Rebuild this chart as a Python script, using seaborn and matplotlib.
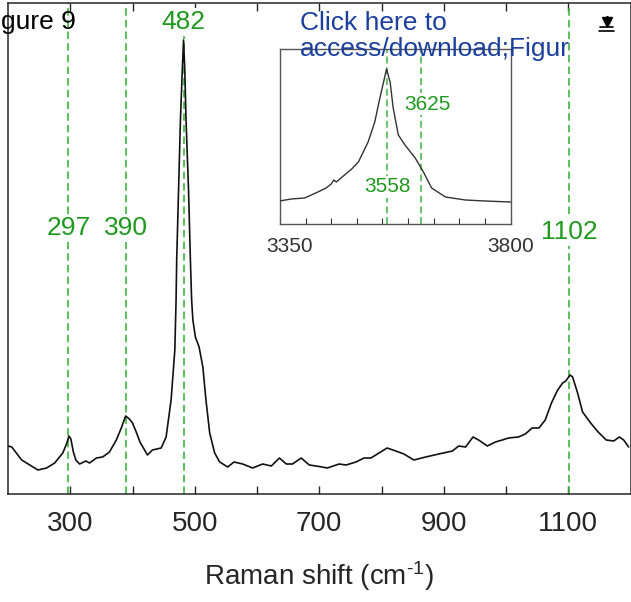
import matplotlib
matplotlib.use("Agg")
import matplotlib.pyplot as plt
import matplotlib.transforms as mtransforms
import seaborn as sns
import pandas as pd
from matplotlib.lines import Line2D

# Raman spectrum, low-wavenumber region (shift in cm^-1, intensity in a.u.)
shift = [200, 206, 222, 235, 248, 262, 275, 288, 294, 298, 301, 305, 309, 315,
         325, 331, 342, 352, 363, 374, 382, 389, 395, 400, 406, 412, 424, 432,
         446, 454, 462, 468, 470, 471, 474, 477, 480, 482, 484, 486, 490, 493,
         495, 497, 501, 507, 513, 518, 524, 532, 540, 553, 563, 577, 593, 609,
         623, 636, 647, 657, 671, 684, 700, 713, 732, 743, 759, 772, 783, 796,
         809, 823, 836, 852, 871, 892, 914, 924, 935, 947, 956, 970, 983, 994,
         1004, 1020, 1031, 1042, 1053, 1063, 1073, 1083, 1091, 1096, 1103, 1107,
         1115, 1123, 1136, 1148, 1161, 1173, 1182, 1189, 1197]
intensity = [48, 47, 34, 29, 24, 26, 31, 41, 50, 58, 55, 42, 34, 30,
             33, 31, 36, 37, 42, 54, 66, 78, 75, 71, 62, 52, 39, 44,
             46, 57, 94, 144, 194, 234, 304, 374, 424, 454, 424, 374, 304, 234,
             194, 174, 157, 147, 127, 94, 61, 41, 32, 27, 32, 30, 26, 30,
             28, 36, 30, 30, 36, 29, 27.5, 26, 30, 29, 32, 36, 36, 41,
             46, 43, 40, 34, 37, 40, 43, 48, 47, 57, 54, 48, 52, 54,
             56, 57, 60, 66, 66, 74, 91, 104, 111, 113, 119, 117,
             101, 82, 71, 62, 54, 53, 57, 54, 47]

# OH-stretching region shown in the inset
oh_shift = [3349, 3372, 3398, 3424, 3440, 3450, 3455, 3460, 3476, 3490, 3503,
            3522, 3535, 3545, 3554, 3558, 3565, 3571, 3581, 3594, 3614, 3630,
            3646, 3673, 3712, 3751, 3800]
oh_intensity = [23, 25, 26, 32, 36, 40, 44, 42, 49, 55, 62,
                82, 102, 126, 146, 155, 142, 116, 89, 79, 66, 52,
                36, 27, 24, 23, 22]

band_positions = [297, 390, 482, 1102]
band_labels = ["297", "390", "482", "1102"]
oh_band_positions = [3558, 3625]
oh_band_labels = ["3558", "3625"]

main_ticks = [300, 400, 500, 600, 700, 800, 900, 1000, 1100]
main_ticklabels = ["300", "", "500", "", "700", "", "900", "", "1100"]
inset_ticks = [3350, 3400, 3450, 3500, 3550, 3600, 3650, 3700, 3750, 3800]
inset_ticklabels = ["3350", "", "", "", "", "", "", "", "", "3800"]

sns.set_style("ticks")
plt.rcParams["font.family"] = ["Liberation Sans", "DejaVu Sans"]
plt.rcParams["mathtext.fontset"] = "custom"
plt.rcParams["mathtext.rm"] = "Liberation Sans"
plt.rcParams["mathtext.it"] = "Liberation Sans:italic"
plt.rcParams["mathtext.bf"] = "Liberation Sans:bold"

W, H = 631, 602
fig = plt.figure(figsize=(W / 100, H / 100), dpi=100)

LINE_GREEN = "#3db53d"
TEXT_GREEN = "#1f9a1f"
AXIS_COL = "#262626"

ax = fig.add_axes([8 / W, 1 - 494 / H, 622.5 / W, 491 / H])
main_df = pd.DataFrame({"shift": shift, "intensity": intensity})
sns.lineplot(data=main_df, x="shift", y="intensity", ax=ax, color="#111111",
             lw=1.2, zorder=3)
ax.set_xlim(200, 1200)
ax.set_ylim(0, 491)
ax.set_yticks([])
ax.set_xticks(main_ticks)
ax.set_xticklabels(main_ticklabels)
ax.tick_params(axis="x", direction="in", top=True, bottom=True, length=6,
               width=1, labelsize=20, pad=12, colors=AXIS_COL)
for sp in ax.spines.values():
    sp.set_color(AXIS_COL)
    sp.set_linewidth(1.1)
ax.set_ylabel("")
ax.set_xlabel("Raman shift (cm$^{\u2010 1}$)", fontsize=20, color=AXIS_COL,
              labelpad=16)

for pos in band_positions:
    ax.axvline(pos, color=LINE_GREEN, lw=1.2, dashes=(4.5, 2.5), zorder=2)

label_y = {"297": 266, "390": 266, "482": 472, "1102": 262}
for pos, lab in zip(band_positions, band_labels):
    ax.text(pos, label_y[lab], lab, color=TEXT_GREEN, fontsize=19,
            ha="center", va="center", zorder=4,
            bbox=dict(facecolor="white", edgecolor="none", pad=1.5))

# Inset with the OH-stretching band
ins = fig.add_axes([280 / W, 1 - 224 / H, 230.5 / W, 175 / H])
oh_df = pd.DataFrame({"shift": oh_shift, "intensity": oh_intensity})
sns.lineplot(data=oh_df, x="shift", y="intensity", ax=ins, color="#333333",
             lw=1.0, zorder=3)
ins.set_xlim(3350, 3800)
ins.set_ylim(0, 175)
ins.set_yticks([])
ins.set_xticks(inset_ticks)
ins.set_xticklabels(inset_ticklabels)
ins.tick_params(axis="x", direction="in", bottom=True, top=False, length=4,
                width=0.8, labelsize=15, pad=9, colors="#333333")
first = ins.get_xticklabels()[0]
first.set_transform(first.get_transform() +
                    mtransforms.ScaledTranslation(10 / 100, 0, fig.dpi_scale_trans))
for sp in ins.spines.values():
    sp.set_color("#555555")
    sp.set_linewidth(1.0)
ins.set_xlabel("")
ins.set_ylabel("")
for pos in oh_band_positions:
    ins.axvline(pos, color=LINE_GREEN, lw=1.1, dashes=(4.5, 2.5), zorder=2)
ins.text(3638, 120, "3625", color=TEXT_GREEN, fontsize=15, ha="center",
         va="center", zorder=4,
         bbox=dict(facecolor="white", edgecolor="none", pad=1))
ins.text(3559, 37, "3558", color=TEXT_GREEN, fontsize=15, ha="center",
         va="center", zorder=4,
         bbox=dict(facecolor="white", edgecolor="none", pad=1))

# Document header overlay
fig.text(1 / W, 1 - 22 / H, "gure 9", fontsize=19, color="black",
         ha="left", va="center")
fig.text(300 / W, 1 - 23 / H, "Click here to", fontsize=19, color="#1a3f9f",
         ha="left", va="center", zorder=10)
fig.text(300 / W, 1 - 49 / H, "access/download;Figur", fontsize=19,
         color="#1a3f9f", ha="left", va="center", zorder=10)

# Download icon
fig.add_artist(Line2D([606.5 / W], [1 - 22 / H], marker="v", markersize=7,
                      color="black", transform=fig.transFigure))
fig.add_artist(Line2D([606.5 / W, 606.5 / W], [1 - 17 / H, 1 - 21 / H], lw=2.2,
                      color="black", transform=fig.transFigure))
fig.add_artist(Line2D([600 / W, 613 / W], [1 - 27 / H, 1 - 27 / H], lw=1.2,
                      color="black", transform=fig.transFigure))
fig.add_artist(Line2D([599 / W, 614 / W], [1 - 31 / H, 1 - 31 / H], lw=1.2,
                      color="black", transform=fig.transFigure))

fig.savefig("out.png", dpi=100)
